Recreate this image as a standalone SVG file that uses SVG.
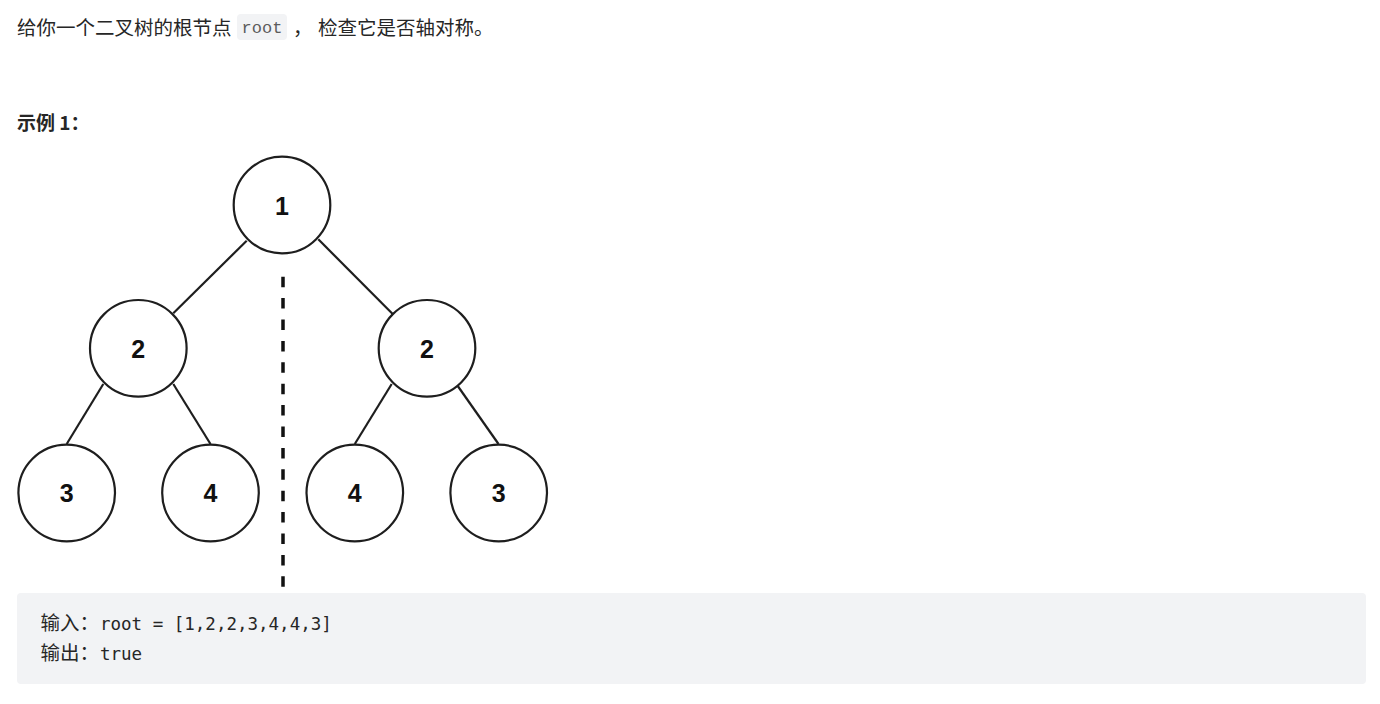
<svg xmlns="http://www.w3.org/2000/svg" width="1380" height="704" viewBox="0 0 1380 704">
<style>
.cjk{font-family:"Noto Sans CJK SC","Noto Sans",sans-serif;fill:#262626}
.mono{font-family:"DejaVu Sans Mono","Liberation Mono",monospace;fill:#262626}
.node circle{fill:#fff;stroke:#1e1e1e;stroke-width:2.2}
.node text{font-family:"Liberation Sans",Arial,sans-serif;font-weight:bold;font-size:25px;fill:#111;text-anchor:middle}
.edge{stroke:#1e1e1e;stroke-width:2.2;fill:none}
</style>
<rect width="1380" height="704" fill="#fff"/>
<g id="header">
<text class="cjk" x="17" y="34.5" font-size="19.5">给你一个二叉树的根节点</text>
<rect x="237" y="14" width="50" height="26" rx="4" fill="#f2f3f5"/>
<text x="262" y="33" font-size="17" text-anchor="middle" font-family="Liberation Mono,monospace" fill="#5c5c5c">root</text>
<text class="cjk" x="293" y="34.5" font-size="19.5">，</text>
<text class="cjk" x="318" y="34.5" font-size="19.5">检查它是否轴对称。</text>
<text class="cjk" x="17" y="130" font-size="19" font-weight="bold">示例 1：</text>
</g>
<g id="connectors">
<line class="edge" x1="246.7" y1="240.7" x2="173.3" y2="313.3"/>
<line class="edge" x1="318.3" y1="239.3" x2="392.7" y2="314"/>
<line class="edge" x1="103.3" y1="384" x2="66.7" y2="444"/>
<line class="edge" x1="173.3" y1="384" x2="210.5" y2="444"/>
<line class="edge" x1="391.7" y1="384" x2="354.8" y2="444"/>
<line class="edge" x1="456.7" y1="384.5" x2="498.5" y2="444"/>
<line x1="283" y1="276.7" x2="283" y2="588" stroke="#111" stroke-width="3.5" stroke-dasharray="10.5 10.9"/>
</g>
<g id="n1" class="node"><circle cx="282" cy="205" r="48.3"/><text x="282" y="214.5">1</text></g>
<g id="n2a" class="node"><circle cx="138.3" cy="348.3" r="48.3"/><text x="138.3" y="357.5">2</text></g>
<g id="n2b" class="node"><circle cx="427" cy="348.3" r="48.3"/><text x="427" y="357.5">2</text></g>
<g id="n3a" class="node"><circle cx="66.7" cy="493" r="48.3"/><text x="66.7" y="502">3</text></g>
<g id="n4a" class="node"><circle cx="210.5" cy="493" r="48.3"/><text x="210.5" y="502">4</text></g>
<g id="n4b" class="node"><circle cx="354.8" cy="493" r="48.3"/><text x="354.8" y="502">4</text></g>
<g id="n3b" class="node"><circle cx="498.7" cy="493" r="48.3"/><text x="498.7" y="502">3</text></g>
<g id="example">
<rect x="17" y="593" width="1349" height="91" rx="4" fill="#f2f3f5"/>
<text class="cjk" x="40.5" y="630" font-size="19.5">输入：</text>
<text class="mono" x="100" y="630" font-size="17.5">root = [1,2,2,3,4,4,3]</text>
<text class="cjk" x="40.5" y="660" font-size="19.5">输出：</text>
<text class="mono" x="100" y="660" font-size="17.5">true</text>
</g>
</svg>
